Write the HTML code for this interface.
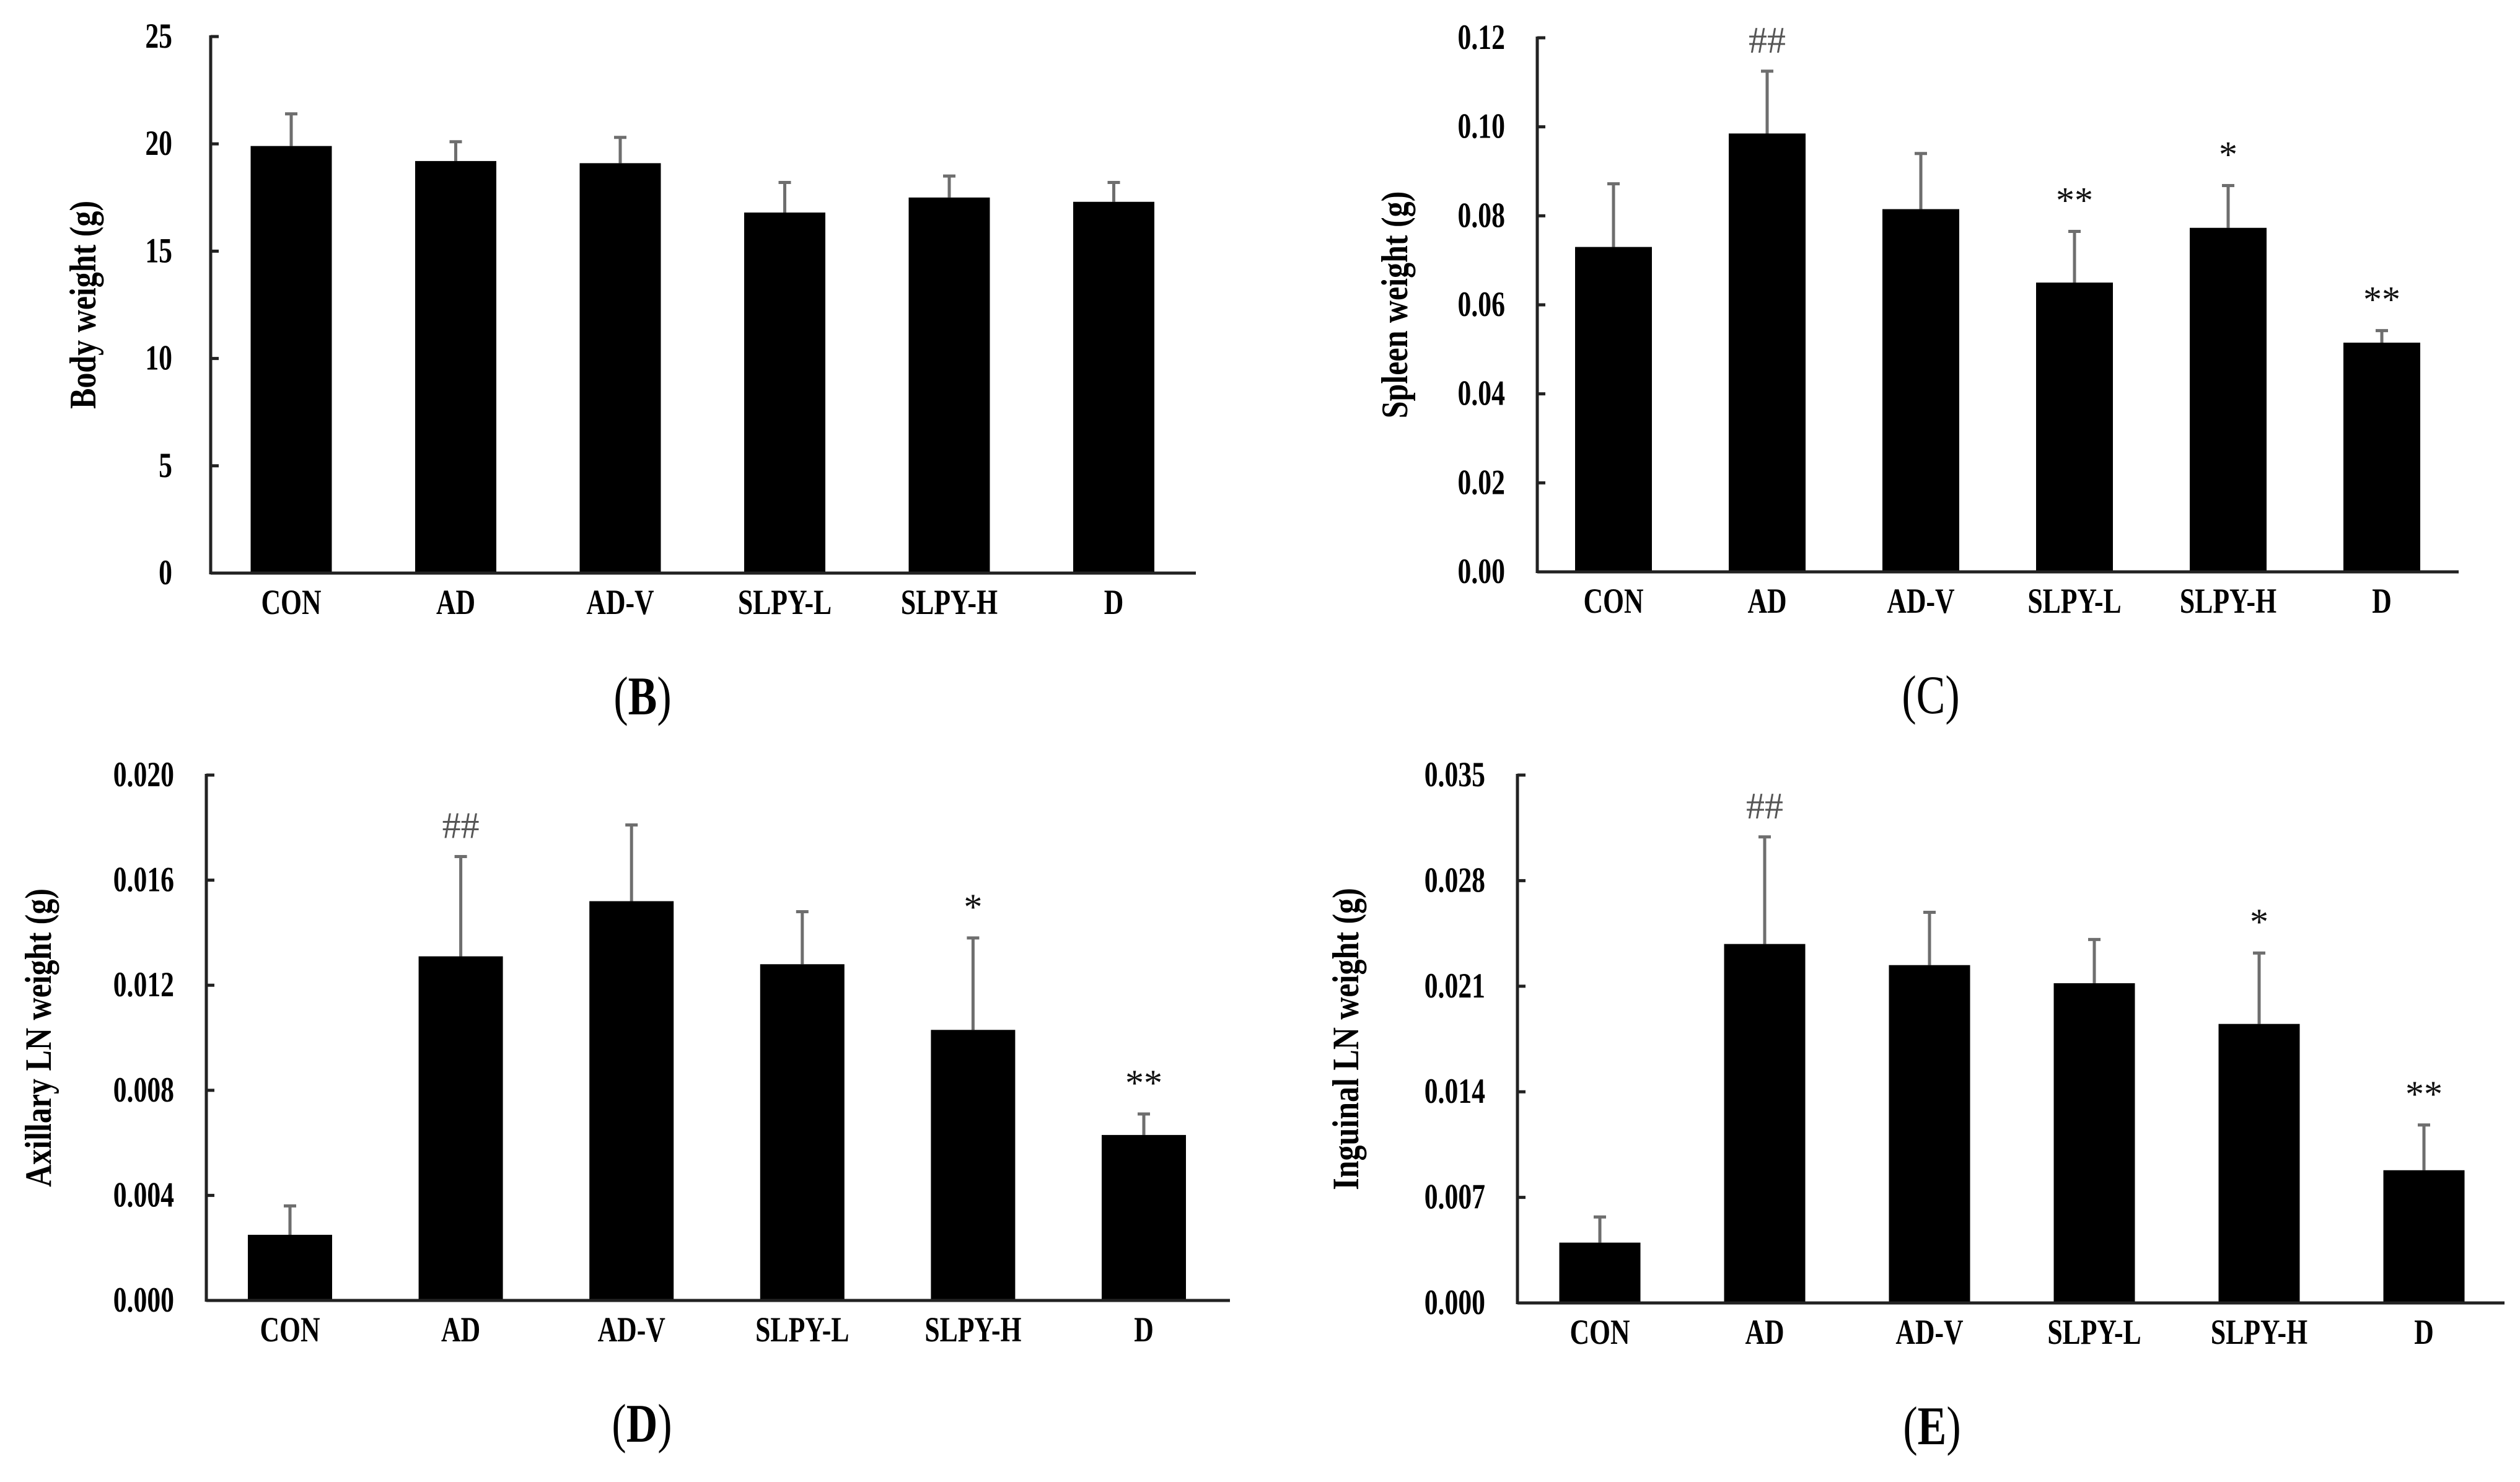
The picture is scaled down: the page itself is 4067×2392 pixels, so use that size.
<!DOCTYPE html>
<html><head><meta charset="utf-8">
<style>
html,body{margin:0;padding:0;background:#fff;}
svg{display:block;}
text{font-family:"Liberation Serif",serif;}
</style></head>
<body>
<svg id="fig" width="4067" height="2392" viewBox="0 0 4067 2392" xmlns="http://www.w3.org/2000/svg"></svg>
<script>
const categories = ["CON","AD","AD-V","SLPY-L","SLPY-H","D"];

const bodyValues = [19.9, 19.2, 19.1, 16.8, 17.5, 17.3];
const bodyErrTop = [21.4, 20.1, 20.3, 18.2, 18.5, 18.2];
const bodyTicks = ["0","5","10","15","20","25"];
const bodyMarks = ["","","","","",""];

const spleenValues = [0.073, 0.0985, 0.0815, 0.065, 0.0773, 0.0515];
const spleenErrTop = [0.0872, 0.1125, 0.094, 0.0765, 0.0868, 0.0542];
const spleenTicks = ["0.00","0.02","0.04","0.06","0.08","0.10","0.12"];
const spleenMarks = ["","##","","**","*","**"];

const axillaryValues = [0.0025, 0.0131, 0.0152, 0.0128, 0.0103, 0.0063];
const axillaryErrTop = [0.0036, 0.0169, 0.0181, 0.0148, 0.0138, 0.0071];
const axillaryTicks = ["0.000","0.004","0.008","0.012","0.016","0.020"];
const axillaryMarks = ["","##","","","*","**"];

const inguinalValues = [0.0040, 0.0238, 0.0224, 0.0212, 0.0185, 0.0088];
const inguinalErrTop = [0.0057, 0.0309, 0.0259, 0.0241, 0.0232, 0.0118];
const inguinalTicks = ["0.000","0.007","0.014","0.021","0.028","0.035"];
const inguinalMarks = ["","##","","","*","**"];

const NS = "http://www.w3.org/2000/svg";
const svg = document.getElementById('fig');
function mk(tag, attrs, parent){
  const e = document.createElementNS(NS, tag);
  for (const k in attrs) e.setAttribute(k, attrs[k]);
  (parent||svg).appendChild(e);
  return e;
}

function panel(cfg){
  const g = mk('g', {});
  
  
  const ticks = cfg.ticks;
  const maxV = parseFloat(ticks[ticks.length-1]);
  const y = v => cfg.bottom - (v/maxV)*(cfg.bottom-cfg.top);
  const x = i => cfg.x0 + i*cfg.step;
  cfg.values.forEach((v,i)=>{
    const cx = x(i);
    const eb = mk('line',{x1:cx,x2:cx,y1:y(v),y2:y(cfg.err[i]),stroke:'#6e6e6e','stroke-width':5},g);
    
    
    const cap = mk('line',{x1:cx-10,x2:cx+10,y1:y(cfg.err[i]),y2:y(cfg.err[i]),stroke:'#6e6e6e','stroke-width':5},g);
    
    
    const r = mk('rect',{x:cx-cfg.bw/2,y:y(v),width:cfg.bw,height:cfg.bottom-y(v),fill:'#000'},g);
    
    
    const lab = mk('text',{x:0,y:0,'text-anchor':'middle','font-size':46,'font-weight':'bold',transform:`translate(${cx},${cfg.bottom+66}) scale(0.95,1.25)`},g);
    lab.textContent = categories[i];
    
    
    if (cfg.marks[i]) {
      const m = mk('text',{x:cx,y:y(cfg.err[i])-cfg.markGap,'text-anchor':'middle','font-size':60,fill:cfg.marks[i][0]==='#'?'#555':'#111'},g);
      m.textContent = cfg.marks[i];
      
      
    }
  });
  const ya = mk('line',{x1:cfg.ax,x2:cfg.ax,y1:cfg.top-2,y2:cfg.bottom+2,stroke:'#222','stroke-width':5},g);
  
  
  const xa = mk('line',{x1:cfg.ax,x2:cfg.right,y1:cfg.bottom,y2:cfg.bottom,stroke:'#222','stroke-width':5},g);
  
  
  ticks.forEach(t=>{
    const ty = y(parseFloat(t));
    const tk = mk('line',{x1:cfg.ax,x2:cfg.ax+13,y1:ty,y2:ty,stroke:'#222','stroke-width':5},g);
    
    
    const tl = mk('text',{x:0,y:0,'text-anchor':'end','font-size':46,'font-weight':'bold',transform:`translate(${cfg.ax-cfg.tickGap},${ty+18}) scale(0.95,1.25)`},g);
    tl.textContent = t;
    
    
  });
  const tt = mk('text',{x:0,y:0,'text-anchor':'middle','font-size':50,'font-weight':'bold',transform:`translate(${cfg.titleX},${(cfg.top+cfg.bottom)/2}) rotate(-90) scale(1,1.2)`},g);
  tt.textContent = cfg.title;
  
  
  const pl = mk('text',{x:0,y:0,'text-anchor':'middle','font-size':70,transform:`translate(${cfg.labelX},${cfg.bottom+228}) scale(1,1.25)`},g);
  pl.innerHTML = cfg.labelBold ? '(<tspan font-weight="bold">'+cfg.letter+'</tspan>)' : '('+cfg.letter+')';
  
  
}

panel({name:'panel-b-body-weight',values:bodyValues,err:bodyErrTop,ticks:bodyTicks,marks:bodyMarks,
  ax:340,right:1930,top:59,bottom:925,x0:470,step:265.5,bw:131,tickGap:62,titleX:154,title:'Body weight (g)',
  labelX:1037,letter:'B',labelBold:true,markGap:30});
panel({name:'panel-c-spleen-weight',values:spleenValues,err:spleenErrTop,ticks:spleenTicks,marks:spleenMarks,
  ax:2481,right:3968,top:61,bottom:923,x0:2604,step:248,bw:124,tickGap:52,titleX:2271,title:'Spleen weight (g)',
  labelX:3116,letter:'C',labelBold:false,markGap:30});
panel({name:'panel-d-axillary-ln-weight',values:axillaryValues,err:axillaryErrTop,ticks:axillaryTicks,marks:axillaryMarks,
  ax:333,right:1985,top:1251,bottom:2099,x0:468,step:275.6,bw:136,tickGap:52,titleX:82,title:'Axillary LN weight (g)',
  labelX:1036,letter:'D',labelBold:true,markGap:30});
panel({name:'panel-e-inguinal-ln-weight',values:inguinalValues,err:inguinalErrTop,ticks:inguinalTicks,marks:inguinalMarks,
  ax:2449,right:4042,top:1251,bottom:2103,x0:2582,step:266,bw:131,tickGap:52,titleX:2192,title:'Inguinal LN weight (g)',
  labelX:3118,letter:'E',labelBold:true,markGap:30});
</script>
</body></html>
